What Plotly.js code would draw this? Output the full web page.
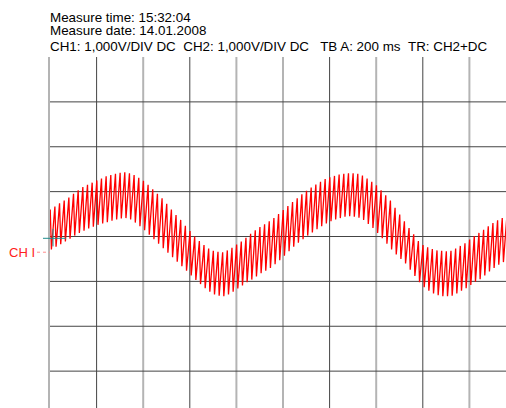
<!DOCTYPE html>
<html>
<head>
<meta charset="utf-8">
<script src="https://cdn.plot.ly/plotly-3.0.1.min.js"></script>
<style>
html, body { margin: 0; padding: 0; overflow: hidden; background: #ffffff; }
#chart { width: 530px; height: 430px; }
</style>
</head>
<body>
<div id="chart"></div>
<script>
// Header texts
const headerLines = [
  "Measure time: 15:32:04",
  "Measure date: 14.01.2008",
  "CH1: 1,000V/DIV DC\u00a0\u00a0CH2: 1,000V/DIV DC\u00a0\u00a0\u00a0TB A: 200 ms\u00a0\u00a0TR: CH2+DC"
];
const channelLabel = "CH I";

// Time base: 200 ms/div, 10 divisions; 1 V/div, 8 divisions
const timePerDivMs = 200;
const divisionsX = 10;
const voltsPerDiv = 1;
const divisionsY = 8;

// Hum cycle (20 ms); per-cycle maximum and minimum (V)
const cyclePeriodMs = 20;
const peakTimeOffsetMs = 1;
const fallTimeMs = 5;
const cyclePeaksV = [
  0.60, 0.67, 0.74, 0.80, 0.87, 0.95, 1.03, 1.10, 1.15, 1.20,
  1.25, 1.29, 1.34, 1.37, 1.40, 1.42, 1.43, 1.41, 1.37, 1.31,
  1.24, 1.15, 1.05, 0.95, 0.85, 0.73, 0.60, 0.48, 0.37, 0.24,
  0.12, 0.00, -0.10, -0.19, -0.27, -0.32, -0.34, -0.35, -0.31, -0.25,
  -0.18, -0.11, -0.03, 0.06, 0.14, 0.21, 0.27, 0.34, 0.41, 0.50,
  0.59, 0.68, 0.77, 0.85, 0.94, 1.02, 1.09, 1.16, 1.22, 1.28,
  1.32, 1.35, 1.38, 1.40, 1.41, 1.41, 1.40, 1.36, 1.29, 1.22,
  1.14, 1.03, 0.92, 0.80, 0.64, 0.49, 0.34, 0.19, 0.05, -0.10,
  -0.19, -0.24, -0.28, -0.31, -0.32, -0.33, -0.32, -0.27, -0.21, -0.15,
  -0.07, 0.01, 0.08, 0.15, 0.23, 0.30, 0.36, 0.41, 0.46
];
const cycleTroughsV = [
  -0.29, -0.23, -0.17, -0.11, -0.05, 0.02, 0.08, 0.13, 0.18, 0.22,
  0.26, 0.29, 0.32, 0.35, 0.38, 0.40, 0.41, 0.38, 0.31, 0.23,
  0.14, 0.04, -0.06, -0.16, -0.26, -0.36, -0.46, -0.56, -0.66, -0.76,
  -0.87, -0.97, -1.06, -1.15, -1.23, -1.29, -1.32, -1.33, -1.29, -1.23,
  -1.16, -1.09, -1.02, -0.96, -0.89, -0.82, -0.76, -0.70, -0.62, -0.53,
  -0.43, -0.33, -0.23, -0.14, -0.06, 0.02, 0.09, 0.16, 0.23, 0.29,
  0.34, 0.38, 0.41, 0.44, 0.45, 0.44, 0.42, 0.37, 0.28, 0.19,
  0.08, -0.04, -0.16, -0.29, -0.40, -0.50, -0.60, -0.74, -0.88, -1.02,
  -1.13, -1.21, -1.27, -1.31, -1.33, -1.33, -1.32, -1.27, -1.21, -1.15,
  -1.08, -1.01, -0.95, -0.87, -0.78, -0.70, -0.63, -0.57, -0.52
];

// Build the trace samples
const tMs = [];
const vVolts = [];
for (let k = 0; k < cyclePeaksV.length; k++) {
  const t0 = k * cyclePeriodMs + peakTimeOffsetMs;
  tMs.push(t0); vVolts.push(cyclePeaksV[k]);
  tMs.push(t0 + fallTimeMs); vVolts.push(cycleTroughsV[k]);
}

const xMax = timePerDivMs * divisionsX;
const yHalf = voltsPerDiv * divisionsY / 2;

// Grid (as drawn by the scope export: some lines soft grey, some dark)
const softVertical = [2, 4, 5, 7, 9];
const shapes = [];
for (let i = 1; i < divisionsX; i++) {
  const soft = softVertical.indexOf(i) >= 0;
  shapes.push({
    type: 'line', xref: 'x', yref: 'y', layer: 'below',
    x0: i * timePerDivMs, x1: i * timePerDivMs, y0: -yHalf, y1: yHalf,
    line: { color: soft ? '#b4b4b4' : '#444444', width: soft ? 2 : 1 }
  });
}
for (let j = -yHalf + 1; j < yHalf; j++) {
  shapes.push({
    type: 'line', xref: 'x', yref: 'y', layer: 'below',
    x0: 0, x1: xMax, y0: j * voltsPerDiv, y1: j * voltsPerDiv,
    line: { color: '#444444', width: 1 }
  });
}
// channel marker dotted lead
shapes.push({
  type: 'line', xref: 'paper', yref: 'y', layer: 'above',
  x0: -13 / 465.6, x1: 0, y0: -0.35, y1: -0.35,
  line: { color: '#ff8c8c', width: 1, dash: 'dot' }
});
// trigger cross
shapes.push({
  type: 'line', xref: 'paper', yref: 'y', layer: 'above',
  x0: -7 / 465.6, x1: 16 / 465.6, y0: -0.04, y1: -0.04,
  line: { color: '#1f8c8c', width: 1 }
});
shapes.push({
  type: 'line', xref: 'paper', yref: 'y', layer: 'above',
  x0: 3 / 465.6, x1: 3 / 465.6, y0: 0.17, y1: -0.22,
  line: { color: '#1f8c8c', width: 1 }
});

const plotH = 359.2;
const fontFam = '"Liberation Sans", Arial, sans-serif';
const annotations = [
  { text: headerLines[0], y: 1 + (57 - 17.5) / plotH },
  { text: headerLines[1], y: 1 + (57 - 30) / plotH },
  { text: headerLines[2], y: 1 + (57 - 46.3) / plotH }
].map(a => ({
  text: a.text, xref: 'paper', yref: 'paper', x: -2 / 465.6, y: a.y,
  xanchor: 'left', yanchor: 'middle', showarrow: false,
  font: { family: fontFam, size: 13.4, color: '#000000' }
}));
annotations.push({
  text: channelLabel, xref: 'paper', yref: 'y', x: -13 / 465.6, y: -0.35,
  xanchor: 'right', yanchor: 'middle', showarrow: false,
  font: { family: fontFam, size: 13, color: '#ff2020' }
});

const data = [{
  type: 'scatter', mode: 'lines', x: tMs, y: vVolts,
  line: { color: '#ff0000', width: 1.3 }, hoverinfo: 'skip'
}];

const layout = {
  width: 530, height: 430,
  margin: { l: 50, r: 14.4, t: 57, b: 13.8, pad: 0 },
  paper_bgcolor: '#ffffff', plot_bgcolor: '#ffffff',
  showlegend: false,
  xaxis: { range: [0, xMax], showgrid: false, zeroline: false, showticklabels: false, ticks: '', showline: false, fixedrange: true },
  yaxis: { range: [-yHalf, yHalf], showgrid: false, zeroline: false, showticklabels: false, ticks: '',
           showline: true, linecolor: '#b4b4b4', linewidth: 2, fixedrange: true },
  shapes: shapes,
  annotations: annotations
};

Plotly.newPlot('chart', data, layout, { staticPlot: true, displayModeBar: false });
</script>
</body>
</html>
